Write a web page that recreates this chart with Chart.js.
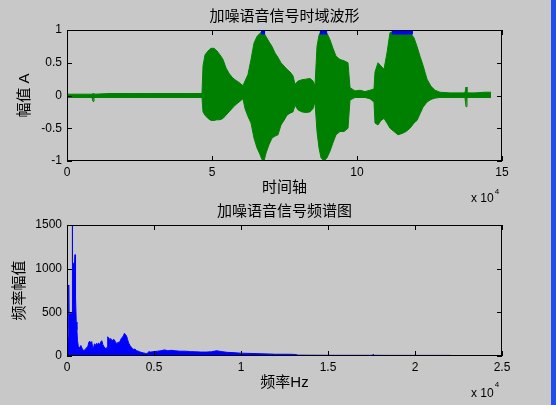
<!DOCTYPE html>
<html>
<head>
<meta charset="utf-8">
<script src="https://cdn.jsdelivr.net/npm/chart.js@4/dist/chart.umd.min.js"></script>
<style>
  html, body { margin: 0; padding: 0; }
  body { width: 556px; height: 405px; background: #c8c8c8; position: relative; overflow: hidden; }
  #waveBox { position: absolute; left: 0; top: 0; width: 556px; height: 205px; }
  #specBox { position: absolute; left: 0; top: 200px; width: 556px; height: 205px; }
  #edge { position: absolute; left: 551px; top: 0; width: 5px; height: 405px; background: #1e50e6; }
</style>
</head>
<body>
<div id="waveBox"><canvas id="waveChart" width="556" height="205"></canvas></div>
<div id="specBox"><canvas id="specChart" width="556" height="205"></canvas></div>
<div id="edge"></div>
<script>
// time-domain envelope of the noisy speech (sample index, upper / lower amplitude)
const waveTime = [0, 4480, 8620, 8970, 9310, 14830, 21720, 28620, 35520, 42410, 46550, 46900, 47590, 48620, 49660, 50690, 51720, 52760, 53790, 54830, 55860, 56900, 57930, 59310, 60690, 61380, 62410, 63450, 64480, 65520, 66550, 67240, 67930, 68620, 69660, 70690, 71720, 72760, 73790, 74830, 75860, 76900, 77930, 78620, 79660, 81030, 82410, 83790, 84830, 85520, 86210, 86900, 87590, 88620, 89660, 90690, 91720, 92760, 94140, 95520, 96900, 97590, 99310, 101030, 102760, 104480, 105860, 106210, 107240, 108280, 109310, 110340, 111380, 112760, 114140, 115520, 116900, 118280, 119660, 120690, 121720, 122760, 124140, 125520, 126900, 128620, 132070, 135520, 137240, 137590, 137930, 140690, 144140, 146210];
const waveUpper = [0.02, 0.02, 0.02, 0.03, 0.02, 0.03, 0.03, 0.03, 0.03, 0.03, 0.03, 0.45, 0.62, 0.68, 0.72, 0.72, 0.68, 0.62, 0.55, 0.42, 0.34, 0.28, 0.24, 0.2, 0.15, 0.22, 0.32, 0.55, 0.8, 0.9, 0.95, 0.98, 0.95, 0.9, 0.82, 0.75, 0.65, 0.58, 0.5, 0.45, 0.4, 0.36, 0.3, 0.17, 0.22, 0.24, 0.25, 0.26, 0.22, 0.15, 0.75, 0.92, 0.98, 0.99, 0.95, 0.85, 0.72, 0.6, 0.55, 0.53, 0.5, 0.12, 0.07, 0.08, 0.06, 0.08, 0.1, 0.36, 0.5, 0.45, 0.4, 0.65, 0.96, 0.98, 0.99, 0.99, 0.99, 0.96, 0.88, 0.75, 0.6, 0.46, 0.25, 0.14, 0.08, 0.05, 0.04, 0.04, 0.04, 0.13, 0.04, 0.04, 0.05, 0.05];
const waveLower = [-0.03, -0.03, -0.03, -0.09, -0.03, -0.03, -0.03, -0.03, -0.03, -0.03, -0.03, -0.25, -0.3, -0.35, -0.38, -0.38, -0.37, -0.37, -0.35, -0.3, -0.25, -0.2, -0.15, -0.1, -0.05, -0.2, -0.32, -0.42, -0.65, -0.8, -0.9, -0.98, -1.0, -0.88, -0.75, -0.65, -0.62, -0.6, -0.45, -0.38, -0.3, -0.27, -0.25, -0.15, -0.22, -0.25, -0.26, -0.25, -0.2, -0.1, -0.55, -0.8, -0.95, -1.0, -0.95, -0.85, -0.72, -0.6, -0.55, -0.55, -0.5, -0.07, -0.03, -0.03, -0.03, -0.05, -0.1, -0.42, -0.45, -0.38, -0.35, -0.42, -0.5, -0.55, -0.6, -0.58, -0.55, -0.5, -0.42, -0.38, -0.28, -0.18, -0.1, -0.06, -0.04, -0.03, -0.03, -0.03, -0.03, -0.17, -0.03, -0.03, -0.03, -0.03];

// where the clean (blue) signal shows above the noisy one
const clipStart = [66900, 87200, 112000];
const clipEnd = [68300, 89700, 119300];
const clipLevel = 0.965;

// magnitude spectrum
const specFreq = [0, 15, 30, 60, 90, 110, 125, 150, 200, 250, 290, 305, 320, 350, 380, 420, 460, 480, 500, 530, 570, 600, 650, 720, 800, 880, 960, 1040, 1120, 1200, 1260, 1310, 1360, 1420, 1470, 1520, 1580, 1640, 1700, 1760, 1820, 1880, 1940, 2000, 2060, 2120, 2180, 2240, 2300, 2340, 2400, 2460, 2520, 2580, 2640, 2700, 2760, 2820, 2880, 2940, 3000, 3060, 3120, 3180, 3240, 3300, 3360, 3420, 3480, 3540, 3620, 3700, 3800, 3900, 4000, 4100, 4200, 4300, 4400, 4500, 4600, 4700, 4800, 5000, 5200, 5400, 5600, 5800, 6000, 6200, 6500, 6800, 7100, 7400, 7700, 8000, 8300, 8600, 8900, 9200, 9600, 10000, 10400, 10800, 11200, 11600, 12000, 12400, 12800, 13100, 13300, 14000, 15000, 16000, 17000, 17550, 17600, 17650, 18500, 19500, 20500, 21500, 22050];
const specMag = [160, 640, 180, 220, 150, 813, 300, 480, 490, 470, 500, 1500, 1080, 1060, 900, 1000, 1160, 800, 680, 390, 300, 180, 110, 95, 120, 80, 65, 70, 95, 110, 160, 170, 150, 165, 100, 90, 140, 120, 145, 130, 150, 125, 160, 175, 130, 110, 90, 85, 100, 220, 205, 190, 200, 170, 185, 190, 170, 150, 140, 160, 150, 175, 200, 215, 230, 260, 245, 230, 190, 150, 120, 100, 75, 80, 60, 55, 45, 40, 35, 30, 25, 50, 45, 50, 55, 60, 70, 60, 65, 60, 55, 55, 50, 48, 45, 45, 48, 60, 50, 42, 38, 32, 30, 28, 25, 23, 20, 20, 20, 18, 10, 9, 8, 8, 8, 8, 20, 8, 7, 7, 7, 7, 7];

const waveTicksY = [-1, -0.5, 0, 0.5, 1];
const specTicksY = [0, 500, 1000, 1500];

const numFont = { family: '"Liberation Sans", Arial, sans-serif', size: 12 };
const cjkFont = { family: '"Liberation Sans", "Noto Sans CJK SC", sans-serif', size: 15, weight: 'normal' };

// MATLAB look: box round the axes, inward ticks on all four sides, title over the axes, "x 10^4" exponent
const matlabAxes = {
  id: 'matlabAxes',
  afterDraw(chart, args, opts) {
    const { ctx, chartArea: a, scales } = chart;
    ctx.save();
    ctx.strokeStyle = '#000';
    ctx.lineWidth = 1;
    ctx.strokeRect(a.left + 0.5, a.top + 0.5, a.width - 1, a.height - 1);
    ctx.beginPath();
    scales.x.ticks.forEach(t => {
      const px = Math.round(scales.x.getPixelForValue(t.value)) + 0.5;
      ctx.moveTo(px, a.bottom); ctx.lineTo(px, a.bottom - 5);
      ctx.moveTo(px, a.top); ctx.lineTo(px, a.top + 5);
    });
    scales.y.ticks.forEach(t => {
      const py = Math.round(scales.y.getPixelForValue(t.value)) + 0.5;
      ctx.moveTo(a.left, py); ctx.lineTo(a.left + 5, py);
      ctx.moveTo(a.right, py); ctx.lineTo(a.right - 5, py);
    });
    ctx.stroke();

    ctx.fillStyle = '#000';
    ctx.textAlign = 'center';
    ctx.textBaseline = 'middle';
    ctx.font = '15px "Noto Sans CJK SC", sans-serif';
    ctx.fillText(opts.title, (a.left + a.right) / 2, opts.titleY);

    ctx.textAlign = 'left';
    ctx.textBaseline = 'alphabetic';
    ctx.font = '12px "Liberation Sans", Arial, sans-serif';
    ctx.fillText('x 10', 471, opts.expY);
    const w = ctx.measureText('x 10').width;
    ctx.font = '8px "Liberation Sans", Arial, sans-serif';
    ctx.fillText('4', 471 + w + 1, opts.expY - opts.supShift);
    ctx.restore();
  }
};

function axisX(max, step, boxH, labelPad, title, titlePad) {
  return {
    type: 'linear', min: 0, max: max,
    grid: { display: false, drawTicks: false },
    border: { display: false },
    ticks: { stepSize: step, color: '#000', font: numFont, padding: labelPad, maxRotation: 0,
      callback: v => String(v / 10000) },
    title: { display: true, text: title, color: '#000', font: cjkFont, padding: { top: 0, bottom: titlePad } },
    afterFit: s => { s.height = boxH; }
  };
}

function axisY(min, max, ticks, title, titlePad) {
  return {
    min: min, max: max,
    grid: { display: false, drawTicks: false },
    border: { display: false },
    afterBuildTicks: s => { s.ticks = ticks.map(v => ({ value: v })); },
    ticks: { color: '#000', font: numFont, padding: 5, callback: v => String(v) },
    title: { display: true, text: title, color: '#000', font: cjkFont, padding: { top: titlePad, bottom: 0 } },
    afterFit: s => { s.width = 67; }
  };
}

const clipPts = [];
clipStart.forEach((s, i) => {
  clipPts.push({ x: s, y: clipLevel }, { x: clipEnd[i], y: clipLevel }, { x: clipEnd[i] + 1, y: null });
});

new Chart(document.getElementById('waveChart'), {
  type: 'line',
  data: {
    datasets: [
      { data: clipPts, borderColor: '#0000ff', borderWidth: 4.5, borderCapStyle: 'butt', pointRadius: 0, fill: false, spanGaps: false },
      { data: waveTime.map((t, i) => ({ x: t, y: waveUpper[i] })), borderColor: '#008000', backgroundColor: '#008000', borderWidth: 1, pointRadius: 0, fill: '+1' },
      { data: waveTime.map((t, i) => ({ x: t, y: waveLower[i] })), borderColor: '#008000', borderWidth: 1, pointRadius: 0, fill: false }
    ]
  },
  options: {
    responsive: false,
    animation: false,
    layout: { padding: { left: 0, right: 54, top: 30, bottom: 5 } },
    plugins: {
      legend: { display: false },
      tooltip: { enabled: false },
      title: { display: false },
      matlabAxes: { title: '加噪语音信号时域波形', titleY: 15, expY: 202, supShift: 8 }
    },
    scales: {
      x: axisX(150000, 50000, 39, 4, '时间轴', 3),
      y: axisY(-1, 1, waveTicksY, '幅值 A', 16)
    }
  },
  plugins: [matlabAxes]
});

new Chart(document.getElementById('specChart'), {
  type: 'line',
  data: {
    datasets: [
      { data: specFreq.map((f, i) => ({ x: f, y: specMag[i] })), borderColor: '#0000ff', backgroundColor: '#0000ff', borderWidth: 1, pointRadius: 0, fill: 'origin' }
    ]
  },
  options: {
    responsive: false,
    animation: false,
    layout: { padding: { left: 0, right: 54, top: 25, bottom: 0 } },
    plugins: {
      legend: { display: false },
      tooltip: { enabled: false },
      title: { display: false },
      matlabAxes: { title: '加噪语音信号频谱图', titleY: 10, expY: 197, supShift: 10 }
    },
    scales: {
      x: axisX(25000, 5000, 49, 4, '频率Hz', 13),
      y: axisY(0, 1500, specTicksY, '频率幅值', 11)
    }
  },
  plugins: [matlabAxes]
});
</script>
</body>
</html>
